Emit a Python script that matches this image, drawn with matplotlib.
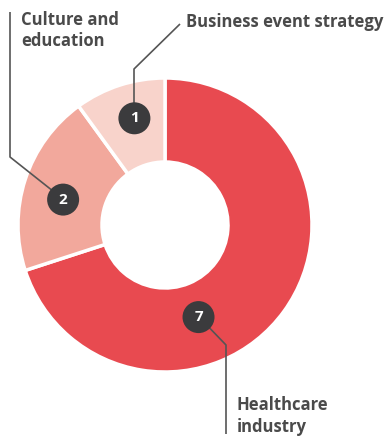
import numpy as np
import matplotlib
matplotlib.use("Agg")
import matplotlib.pyplot as plt
from matplotlib.patches import Circle

categories = ["Healthcare industry", "Culture and education", "Business event strategy"]
values = [7, 2, 1]
label_lines = [["Healthcare", "industry"], ["Culture and", "education"], ["Business event strategy"]]
colors = ["#E84A50", "#F2A89C", "#F8D3CB"]

W, H = 387, 437
fig = plt.figure(figsize=(W / 100, H / 100), dpi=100)
ax = fig.add_axes([0, 0, 1, 1])

cx, cy = 165, H - 225
R = 147
ring = 84
ax.pie(values, colors=colors, startangle=90, counterclock=False,
       center=(cx, cy), radius=R,
       wedgeprops=dict(width=ring, edgecolor="white", linewidth=2.5))

ax.set_xlim(0, W)
ax.set_ylim(0, H)
ax.set_aspect("equal")
ax.axis("off")

def P(x, y):
    return (x, H - y)

line_col = "#555555"
text_col = "#4a4a4a"
badge_col = "#3b3b3d"
FONT = "Open Sans"

# badge polar placement (angle deg, radius px)
badge_pos = [(-70, 98), (166, 105), (106, 111)]
# leader line paths (pixel coords, y down)
paths = [
    [(199, 317), (226, 345), (226, 434)],
    [(63, 199), (10, 157), (10, 12)],
    [(134, 118), (134, 69), (180, 24)],
]
# text anchor: x, y of first line centre (pixel, y down)
text_pos = [(237, 403), (21, 18), (186, 20)]
line_step = 21.5

for v, bp, path, tp, lines in zip(values, badge_pos, paths, text_pos, label_lines):
    xs = [P(*p)[0] for p in path]
    ys = [P(*p)[1] for p in path]
    ax.plot(xs, ys, color=line_col, lw=1.2, zorder=3, solid_capstyle="butt")
    a = np.deg2rad(bp[0])
    bx, by = cx + bp[1] * np.cos(a), cy + bp[1] * np.sin(a)
    ax.add_patch(Circle((bx, by), 16, facecolor=badge_col, edgecolor="none", zorder=4))
    ax.text(bx, by, str(v), color="white", fontsize=11, fontweight="bold",
            family=FONT, ha="center", va="center", zorder=5)
    for i, ln in enumerate(lines):
        ax.text(tp[0], H - tp[1] - i * line_step, ln, color=text_col, fontsize=12,
                fontweight="bold", family=FONT, ha="left", va="center_baseline")

fig.savefig("out.png", dpi=100)
